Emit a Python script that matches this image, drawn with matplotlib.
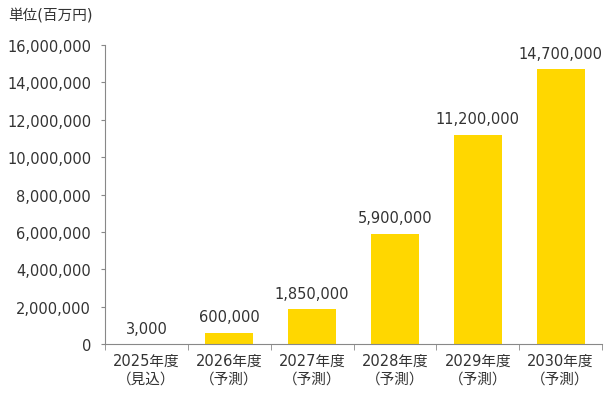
import matplotlib
matplotlib.use("Agg")
import matplotlib.pyplot as plt
from matplotlib.ticker import FuncFormatter, FixedLocator

plt.rcParams['font.family'] = ['DejaVu Sans', 'Noto Sans CJK JP']

years = ["2025年度", "2026年度", "2027年度", "2028年度", "2029年度", "2030年度"]
kinds = ["（見込）", "（予測）", "（予測）", "（予測）", "（予測）", "（予測）"]
values = [3000, 600000, 1850000, 5900000, 11200000, 14700000]

txt = "#333333"

fig = plt.figure(figsize=(6.08, 4.02), dpi=100)
ax = fig.add_axes([105 / 608, 1 - 345 / 402, 497 / 608, 299 / 402])

x = list(range(len(values)))
ax.bar(x, values, width=0.58, color="#FFD700")

for xi, v in zip(x, values):
    ax.annotate(f"{v:,}", (xi, v), xytext=(0, 6), textcoords="offset points",
                ha="center", va="bottom", fontsize=10.5, color=txt)

ax.set_xlim(-0.5, len(values) - 0.5)
ax.set_ylim(0, 16000000)
ax.set_yticks(range(0, 16000001, 2000000))
ax.yaxis.set_major_formatter(FuncFormatter(lambda v, p: f"{int(v):,}"))
ax.tick_params(axis="y", labelsize=10.5, length=3, color="#888888", labelcolor=txt, pad=7)

ax.set_xticks(x)
ax.set_xticklabels([f"{y}\n{k}" for y, k in zip(years, kinds)], fontsize=10.5, color=txt, linespacing=1.3)
ax.tick_params(axis="x", length=0, pad=6)
ax.xaxis.set_minor_locator(FixedLocator([i + 0.5 for i in range(-1, len(values))]))
ax.tick_params(axis="x", which="minor", length=4, color="#888888")

for s in ["top", "right"]:
    ax.spines[s].set_visible(False)
ax.spines["left"].set_color("#888888")
ax.spines["bottom"].set_color("#888888")

fig.text(8 / 608, 1 - 16 / 402, "単位(百万円)", fontsize=10.5, va="center", ha="left", color=txt)

fig.savefig("out.png", dpi=100)
